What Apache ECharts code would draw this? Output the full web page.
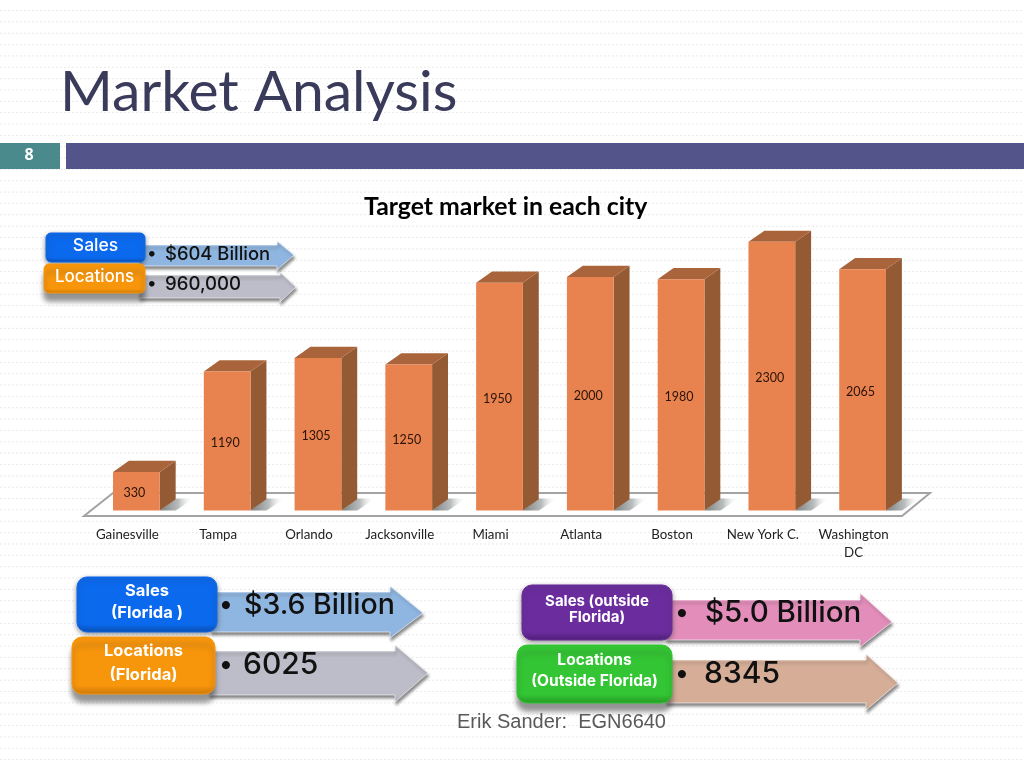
<!DOCTYPE html>
<html><head><meta charset="utf-8">
<style>html,body{margin:0;padding:0;background:#fff}#c{width:1024px;height:768px}</style>
<script src="https://cdn.jsdelivr.net/npm/echarts@6/dist/echarts.min.js"></script>
</head><body><div id="c"></div>
<script>
const cities = ['Gainesville','Tampa','Orlando','Jacksonville','Miami','Atlanta','Boston','New York C.','Washington\nDC'];
const targetMarket = [330,1190,1305,1250,1950,2000,1980,2300,2065];
const slideTitle = 'Market Analysis';
const chartTitle = 'Target market in each city';
const slideNumber = '8';
const footer = 'Erik Sander:  EGN6640';
const bullet = '•';
const usSales = ['Sales','$604 Billion'];
const usLocations = ['Locations','960,000'];
const flSales = ['Sales\n(Florida )','$3.6 Billion'];
const flLocations = ['Locations\n(Florida)','6025'];
const outSales = ['Sales (outside\nFlorida)','$5.0 Billion'];
const outLocations = ['Locations\n(Outside Florida)','8345'];

const chart = echarts.init(document.getElementById('c'), null, {renderer:'canvas'});
const gfx = [];

for (let i = 0; i < 68; i++) {
  const y = 10.5 + i * 11.35;
  gfx.push({type:'line', silent:true, z:-5,
    shape:{x1:0,y1:y,x2:1024,y2:y},
    style:{stroke:'#e9e9e9',lineWidth:1,lineDash:[2,2]}});
}
gfx.push({type:'rect',z:1,shape:{x:0,y:143,width:60,height:26},style:{fill:'#4A8A8C'}});
gfx.push({type:'rect',z:1,shape:{x:66,y:143,width:958,height:26},style:{fill:'#53548A'}});
gfx.push({type:'text',z:2,style:{x:29,y:155,text:slideNumber,fill:'#fff',font:'bold 16px "Open Sans"',align:'center',verticalAlign:'middle'}});
gfx.push({type:'text',z:6,style:{x:457,y:722,text:footer,fill:'#595959',font:'20px "Liberation Sans"',align:'left',verticalAlign:'middle'}});
gfx.push({type:'polygon',z:1,shape:{points:[[84,516],[113,493],[930,493],[902,516]]},
  style:{fill:'#fff',stroke:'#a3a3a3',lineWidth:2}});
[[145,268,132,7],[217,638,176,13],[672,648,190,11]].forEach(g=>
  gfx.push({type:'rect',z:2,shape:{x:g[0],y:g[1],width:g[2],height:g[3]},style:{fill:'#fff'}}));

function callout(c){
  gfx.push({type:'polygon',z:3,
    shape:{points:[[c.bx1-6,c.at],[c.ah,c.at],[c.ah,c.ahT],[c.ax,c.ay],[c.ah,c.ahB],[c.ah,c.ab],[c.bx1-6,c.ab]]},
    style:{fill:c.arrow,shadowBlur:3,shadowOffsetY:3,shadowOffsetX:1,shadowColor:'rgba(70,70,70,0.65)',stroke:'rgba(255,255,255,0.6)',lineWidth:1}});
  gfx.push({type:'rect',z:4,shape:{x:c.bx0,y:c.by0,width:c.bx1-c.bx0,height:c.by1-c.by0,r:c.r||8},
    style:{fill:{type:'linear',x:0,y:0,x2:0,y2:1,colorStops:[{offset:0,color:c.box},{offset:.85,color:c.box},{offset:1,color:c.boxDark}]},
      stroke:c.box,lineWidth:1,shadowBlur:5,shadowOffsetY:c.sh||6,shadowColor:'rgba(60,60,60,0.55)'}});
  gfx.push({type:'text',z:5,style:{x:(c.bx0+c.bx1)/2,y:(c.by0+c.by1)/2-(c.tup||0),text:c.label,fill:'#fff',
    font:c.lf,align:'center',verticalAlign:'middle',lineHeight:c.lh||24}});
  gfx.push({type:'text',z:5,style:{x:c.tx,y:c.ty,text:bullet,fill:'#111',font:c.bf,align:'left',verticalAlign:'middle'}});
  gfx.push({type:'text',z:5,style:{x:c.vx,y:c.ty,text:c.value,fill:'#111',font:c.vf,align:'left',verticalAlign:'middle'}});
}
const GEO='Inter';
callout({bx0:46,bx1:145,by0:233,by1:262,r:5,box:'#0B69EE',boxDark:'#0A4FB0',arrow:'#8FB6E1',label:usSales[0],value:usSales[1],
  at:245,ab:266,ah:277,ahT:241,ahB:270,ax:294,ay:255,tx:147,vx:165,ty:254,lf:'500 17.5px '+GEO,bf:'500 18px '+GEO,vf:'500 18.4px '+GEO,tup:2,sh:2});
callout({bx0:44,bx1:145,by0:264,by1:293,r:5,box:'#F7950B',boxDark:'#C9760A',arrow:'#BCBDC8',label:usLocations[0],value:usLocations[1],
  at:275,ab:298,ah:280,ahT:272,ahB:302,ax:296,ay:287,tx:147,vx:165,ty:284,lf:'500 17px '+GEO,bf:'500 18px '+GEO,vf:'500 18.6px '+GEO,tup:2,sh:8});
callout({bx0:77,bx1:217,by0:577,by1:632,r:10,box:'#0B69EE',boxDark:'#0A4FB0',arrow:'#8FB6E1',label:flSales[0],value:flSales[1],
  at:592,ab:632,ah:390,ahT:586,ahB:638,ax:423,ay:613,tx:219,vx:244,ty:605,lf:'bold 16.5px '+GEO,bf:'500 26px '+GEO,vf:'500 28.5px '+GEO,lh:22,tup:2,sh:2});
callout({bx0:72,bx1:215,by0:637,by1:694,r:10,box:'#F7950B',boxDark:'#C9760A',arrow:'#BCBDC8',label:flLocations[0],value:flLocations[1],
  at:651,ab:695,ah:395,ahT:645,ahB:702,ax:428,ay:673,tx:219,vx:243,ty:665,lf:'bold 16.5px '+GEO,bf:'500 26px '+GEO,vf:'500 30px '+GEO,lh:24,tup:2,sh:8});
callout({bx0:522,bx1:672,by0:585,by1:640,r:10,box:'#6B2C9E',boxDark:'#4F1F78',arrow:'#E28DBA',label:outSales[0],value:outSales[1],
  at:600,ab:640,ah:860,ahT:593,ahB:647,ax:892,ay:622,tx:675,vx:705,ty:613,lf:'bold 15px '+GEO,bf:'500 26px '+GEO,vf:'500 29.5px '+GEO,lh:16,tup:3,sh:2});
callout({bx0:517,bx1:672,by0:645,by1:703,r:10,box:'#33C533',boxDark:'#249A24',arrow:'#D6AE98',label:outLocations[0],value:outLocations[1],
  at:660,ab:703,ah:866,ahT:654,ahB:710,ax:898,ay:683,tx:675,vx:704,ty:674,lf:'bold 15.5px '+GEO,bf:'500 26px '+GEO,vf:'500 30px '+GEO,lh:21,tup:3,sh:8});

function renderBar(params, api){
  const i = api.value(0), v = api.value(1);
  const top = api.coord([i, v]), base = api.coord([i, 0]);
  const w = api.size([1,0])[0] * 0.515;
  const dx = w * 0.34, dy = w * 0.24;
  const x0 = top[0]-w/2, x1 = top[0]+w/2, yT = top[1], yB = base[1];
  return {type:'group', children:[
    {type:'polygon',z2:1,shape:{points:[[x1,yB],[x1+dx,yB-12],[x1+dx+18,yB-12],[x1+16,yB]]},
      style:{fill:{type:'linear',x:0,y:0,x2:1,y2:0,colorStops:[{offset:0,color:'#7c8080'},{offset:.55,color:'#b9bdbd'},{offset:1,color:'rgba(255,255,255,0)'}]}}},
    {type:'polygon',z2:2,shape:{points:[[x1,yT],[x1+dx,yT-dy],[x1+dx,yB-dy],[x1,yB]]},style:{fill:'#945A33'}},
    {type:'polygon',z2:2,shape:{points:[[x0,yT],[x0+dx,yT-dy],[x1+dx,yT-dy],[x1,yT]]},style:{fill:'#A9643C'}},
    {type:'rect',z2:3,shape:{x:x0,y:yT,width:w,height:yB-yT},style:{fill:'#E8834F'}},
    {type:'text',z2:4,style:{x:top[0]-2,y:(yT+yB)/2+2,text:String(v),fill:'#2b1206',font:'12.5px Lato',align:'center',verticalAlign:'middle'}}
  ]};
}

chart.setOption({
  animation:false,
  backgroundColor:'transparent',
  title:[
    {text:slideTitle,left:60,top:64,padding:0,textStyle:{color:'#3A3A5A',fontFamily:'Lato',fontWeight:'normal',fontSize:57}},
    {text:chartTitle,left:364,top:195,padding:0,textStyle:{color:'#000',fontFamily:'Lato',fontWeight:'bold',fontSize:24.8}}
  ],
  grid:{left:91,width:817,top:218.5,height:292,containLabel:false},
  xAxis:{type:'category',data:cities,
    axisLine:{show:false},axisTick:{show:false},splitLine:{show:false},
    axisLabel:{interval:0,margin:15.5,padding:[0,18,0,0],color:'#222',fontFamily:'Lato',fontSize:13.3,lineHeight:18}},
  yAxis:{type:'value',min:0,max:2500,show:false,splitLine:{show:false}},
  series:[{type:'custom',z:3,renderItem:renderBar,encode:{x:0,y:1},clip:false,
    data:targetMarket.map((v,i)=>[i,v])}],
  graphic:{elements:gfx}
});
</script></body></html>
